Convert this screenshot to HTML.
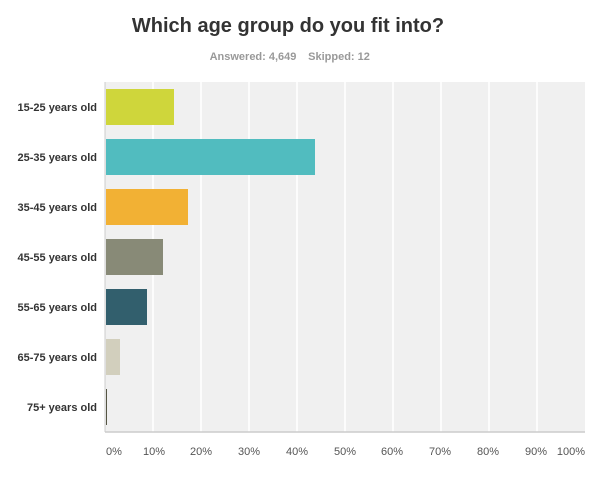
<!DOCTYPE html>
<html><head><style>
body{margin:0;background:#fff;width:609px;height:478px;overflow:hidden;font-family:"Liberation Sans",Arial,sans-serif;}
</style></head><body>
<svg width="609" height="478" xmlns="http://www.w3.org/2000/svg" font-family="Liberation Sans, Arial, sans-serif">
<text x="288" y="32" text-anchor="middle" font-size="20" font-weight="bold" fill="#333">Which age group do you fit into?</text>
<text x="253" y="60" text-anchor="middle" font-size="11" font-weight="bold" fill="#999">Answered: 4,649</text>
<text x="339" y="60" text-anchor="middle" font-size="11" font-weight="bold" fill="#999">Skipped: 12</text>
<rect x="105" y="82" width="480" height="350" fill="#f0f0f0"/>
<g stroke="#fff" stroke-width="1.5">
<line x1="153" y1="82" x2="153" y2="432"/><line x1="201" y1="82" x2="201" y2="432"/>
<line x1="249" y1="82" x2="249" y2="432"/><line x1="297" y1="82" x2="297" y2="432"/>
<line x1="345" y1="82" x2="345" y2="432"/><line x1="393" y1="82" x2="393" y2="432"/>
<line x1="441" y1="82" x2="441" y2="432"/><line x1="489" y1="82" x2="489" y2="432"/>
<line x1="537" y1="82" x2="537" y2="432"/>
</g>
<rect x="106" y="89" width="68" height="36" fill="#cfd63b"/>
<rect x="106" y="139" width="209" height="36" fill="#51bcbf"/>
<rect x="106" y="189" width="82" height="36" fill="#f2b134"/>
<rect x="106" y="239" width="57" height="36" fill="#888a77"/>
<rect x="106" y="289" width="41" height="36" fill="#325f6d"/>
<rect x="106" y="339" width="14" height="36" fill="#d2cfbd"/>
<rect x="106" y="389" width="1" height="36" fill="#555544"/>
<line x1="105" y1="82" x2="105" y2="432" stroke="#ccc" stroke-width="1"/>
<line x1="105" y1="432" x2="585" y2="432" stroke="#ccc" stroke-width="1.5"/>
<g font-size="11" font-weight="bold" fill="#333" text-anchor="end">
<text x="97" y="111">15-25 years old</text>
<text x="97" y="161">25-35 years old</text>
<text x="97" y="211">35-45 years old</text>
<text x="97" y="261">45-55 years old</text>
<text x="97" y="311">55-65 years old</text>
<text x="97" y="361">65-75 years old</text>
<text x="97" y="411">75+ years old</text>
</g>
<g font-size="11" fill="#555" text-anchor="middle">
<text x="114" y="455">0%</text><text x="154" y="455">10%</text><text x="201" y="455">20%</text>
<text x="249" y="455">30%</text><text x="297" y="455">40%</text><text x="345" y="455">50%</text>
<text x="392" y="455">60%</text><text x="440" y="455">70%</text><text x="488" y="455">80%</text>
<text x="536" y="455">90%</text><text x="571" y="455">100%</text>
</g>
</svg>
</body></html>
